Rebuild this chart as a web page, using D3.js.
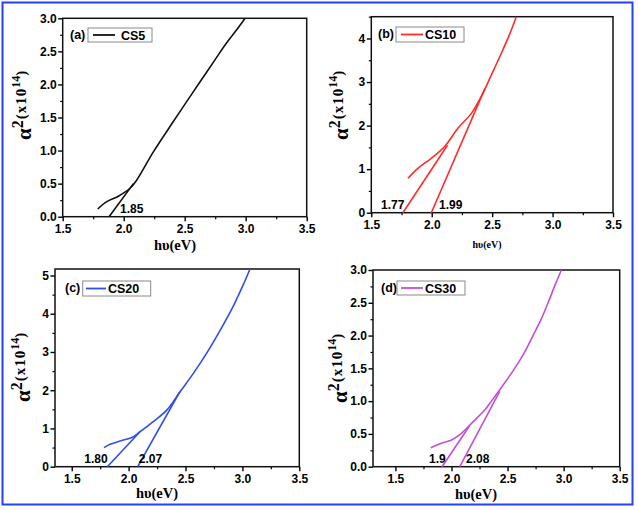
<!DOCTYPE html>
<html><head><meta charset="utf-8">
<script src="https://cdn.jsdelivr.net/npm/d3@7"></script>
<style>
body{margin:0;background:#fff;}
svg{display:block;}
</style></head>
<body>
<svg id="c" width="638" height="510"></svg>
<script>
// ---------- data ----------
const panelIds = ["(a)", "(b)", "(c)", "(d)"];
const samples = ["CS5", "CS10", "CS20", "CS30"];
const colors = ["#111111", "#ff2a2a", "#2f4fe6", "#c24fd6"];
const xTickVals = [1.5, 2.0, 2.5, 3.0, 3.5];

// CS5
const cs5X = [1.787, 1.861, 1.956, 2.052, 2.107, 2.243, 2.40, 2.516, 2.626, 2.744, 2.844, 2.94, 2.995];
const cs5Y = [0.116, 0.227, 0.31, 0.43, 0.555, 0.98, 1.42, 1.74, 2.04, 2.36, 2.63, 2.86, 3.0];
const cs5TanX = [[1.88, 2.08]];
const cs5TanY = [[0, 0.5]];
const cs5Gaps = ["1.85"];
const cs5GapX = [1.97];
const cs5GapY = [0.06];
const cs5YTicks = [0, 0.5, 1.0, 1.5, 2.0, 2.5, 3.0];

// CS10
const cs10X = [1.803, 1.886, 1.997, 2.107, 2.217, 2.328, 2.41, 2.493, 2.576, 2.645, 2.7];
const cs10Y = [0.79, 1.02, 1.25, 1.52, 1.94, 2.28, 2.67, 3.16, 3.66, 4.1, 4.5];
const cs10TanX = [[1.762, 2.13], [1.997, 2.44]];
const cs10TanY = [[0, 1.55], [0, 2.85]];
const cs10Gaps = ["1.77", "1.99"];
const cs10GapX = [1.58, 2.06];
const cs10GapY = [0.08, 0.08];
const cs10YTicks = [0, 1, 2, 3, 4];

// CS20
const cs20X = [1.784, 1.837, 1.925, 2.042, 2.1, 2.217, 2.335, 2.452, 2.569, 2.686, 2.803, 2.92, 2.96, 3.008, 3.067];
const cs20Y = [0.497, 0.585, 0.67, 0.785, 0.916, 1.18, 1.48, 1.96, 2.44, 2.97, 3.56, 4.2, 4.45, 4.76, 5.17];
const cs20TanX = [[1.813, 2.1], [2.08, 2.45]];
const cs20TanY = [[0, 0.916], [0, 1.96]];
const cs20Gaps = ["1.80", "2.07"];
const cs20GapX = [1.61, 2.09];
const cs20GapY = [0.1, 0.1];
const cs20YTicks = [0, 1, 2, 3, 4, 5];

// CS30
const cs30X = [1.815, 1.91, 2.0, 2.088, 2.178, 2.296, 2.356, 2.45, 2.564, 2.65, 2.727, 2.8, 2.861, 2.926, 2.98];
const cs30Y = [0.29, 0.356, 0.407, 0.508, 0.66, 0.864, 1.0, 1.22, 1.5, 1.74, 2.0, 2.25, 2.5, 2.78, 3.0];
const cs30TanX = [[1.916, 2.16], [2.074, 2.43]];
const cs30TanY = [[0, 0.62], [0, 1.15]];
const cs30Gaps = ["1.9", "2.08"];
const cs30GapX = [1.8, 2.13];
const cs30GapY = [0.06, 0.06];
const cs30YTicks = [0, 0.5, 1.0, 1.5, 2.0, 2.5, 3.0];

// ---------- layout ----------
const panels = [
  {x: cs5X, y: cs5Y, tx: cs5TanX, ty: cs5TanY, gl: cs5Gaps, gx: cs5GapX, gy: cs5GapY, yt: cs5YTicks,
   xd: [1.5, 3.5], yd: [0, 3.0], yfmt: ".1f", ymin: 0.25,
   L: 62.7, R: 306.7, T: 18.3, B: 216.7,
   leg: {idX: 70, box: [88, 28, 64, 14], line: [93, 115], tX: 121},
   ylab: {x: 31, y: 140}, xlab: {x: 175, y: 250, fs: 14.5}},
  {x: cs10X, y: cs10Y, tx: cs10TanX, ty: cs10TanY, gl: cs10Gaps, gx: cs10GapX, gy: cs10GapY, yt: cs10YTicks,
   xd: [1.5, 3.5], yd: [0, 4.5], yfmt: "d", ymin: 0.5,
   L: 371.3, R: 613, T: 16.7, B: 212.7,
   leg: {idX: 378, box: [396, 27, 68, 15], line: [401, 423], tX: 425},
   ylab: {x: 348, y: 140}, xlab: {x: 487, y: 248, fs: 10}},
  {x: cs20X, y: cs20Y, tx: cs20TanX, ty: cs20TanY, gl: cs20Gaps, gx: cs20GapX, gy: cs20GapY, yt: cs20YTicks,
   xd: [1.353, 3.5], yd: [0, 5.17], yfmt: "d", ymin: 0.5,
   L: 55, R: 299.3, T: 269, B: 466.7,
   leg: {idX: 65, box: [82.7, 281, 68, 15], line: [86, 106], tX: 108},
   ylab: {x: 30, y: 402}, xlab: {x: 157, y: 498, fs: 14.5}},
  {x: cs30X, y: cs30Y, tx: cs30TanX, ty: cs30TanY, gl: cs30Gaps, gx: cs30GapX, gy: cs30GapY, yt: cs30YTicks,
   xd: [1.3, 3.5], yd: [0, 3.0], yfmt: ".1f", ymin: 0.25,
   L: 373, R: 619.7, T: 270, B: 466.7,
   leg: {idX: 381, box: [397, 281, 68, 14], line: [401, 423], tX: 425},
   ylab: {x: 347, y: 403}, xlab: {x: 476, y: 499, fs: 14.5}}
];

const svg = d3.select("#c");

// outer frame
svg.append("rect").attr("x", 2.5).attr("y", 2.5).attr("width", 630).attr("height", 502)
  .attr("fill", "none").attr("stroke", "#2340ff").attr("stroke-width", 2);

const SANS = "'Liberation Sans', Arial, sans-serif";
const SERIF = "'Liberation Serif', 'Times New Roman', serif";

panels.forEach((p, i) => {
  const g = svg.append("g");
  const xs = d3.scaleLinear().domain(p.xd).range([p.L, p.R]);
  const ys = d3.scaleLinear().domain(p.yd).range([p.B, p.T]);
  const col = colors[i];

  // minor ticks
  const xMinor = d3.range(1.25, 3.51, 0.25).filter(v => v >= p.xd[0] - 1e-9 && !xTickVals.some(t => Math.abs(t - v) < 1e-6));
  const yMinor = d3.range(p.ymin, p.yd[1] + 1e-9, p.ymin * 2).filter(v => !p.yt.some(t => Math.abs(t - v) < 1e-6));
  g.append("g").attr("transform", `translate(0,${p.B})`)
    .call(d3.axisBottom(xs).tickValues(xMinor).tickSize(2.5).tickFormat("").tickSizeOuter(0))
    .call(a => a.select(".domain").remove())
    .call(a => a.selectAll("line").attr("stroke-width", 1.2));
  g.append("g").attr("transform", `translate(${p.L},0)`)
    .call(d3.axisLeft(ys).tickValues(yMinor).tickSize(2.5).tickFormat("").tickSizeOuter(0))
    .call(a => a.select(".domain").remove())
    .call(a => a.selectAll("line").attr("stroke-width", 1.2));

  // major axes
  const xa = g.append("g").attr("transform", `translate(0,${p.B})`)
    .call(d3.axisBottom(xs).tickValues(xTickVals).tickFormat(d3.format(".1f")).tickSize(4.5).tickPadding(3).tickSizeOuter(0));
  const ya = g.append("g").attr("transform", `translate(${p.L},0)`)
    .call(d3.axisLeft(ys).tickValues(p.yt).tickFormat(d3.format(p.yfmt)).tickSize(4.5).tickPadding(1.5).tickSizeOuter(0));
  [xa, ya].forEach(a => {
    a.select(".domain").remove();
    a.selectAll("line").attr("stroke", "#000").attr("stroke-width", 1.4);
    a.selectAll("text").attr("fill", "#000").style("font-family", SANS)
      .style("font-weight", "bold").style("font-size", "12px");
  });

  // frame
  g.append("rect").attr("x", p.L).attr("y", p.T).attr("width", p.R - p.L).attr("height", p.B - p.T)
    .attr("fill", "none").attr("stroke", "#111").attr("stroke-width", 1.5);

  const line = d3.line().x(d => xs(d[0])).y(d => ys(d[1])).curve(d3.curveCatmullRom.alpha(0.5));
  const clip = "clip" + i;
  svg.append("clipPath").attr("id", clip).append("rect")
    .attr("x", p.L).attr("y", p.T - 1).attr("width", p.R - p.L).attr("height", p.B - p.T + 1);

  // data curve
  g.append("path").datum(p.x.map((v, k) => [v, p.y[k]]))
    .attr("d", line).attr("fill", "none").attr("stroke", col).attr("stroke-width", 1.6)
    .attr("clip-path", `url(#${clip})`);
  // tangents
  p.tx.forEach((tx, k) => {
    g.append("path").datum(tx.map((v, j) => [v, p.ty[k][j]]))
      .attr("d", d3.line().x(d => xs(d[0])).y(d => ys(d[1])))
      .attr("fill", "none").attr("stroke", col).attr("stroke-width", 1.6);
  });
  // gap labels
  p.gl.forEach((t, k) => {
    g.append("text").attr("x", xs(p.gx[k])).attr("y", ys(p.gy[k]))
      .text(t).style("font-family", SANS).style("font-weight", "bold").style("font-size", "12px");
  });

  // legend
  const lg = p.leg;
  g.append("text").attr("x", lg.idX).attr("y", lg.box[1] + 11).text(panelIds[i])
    .style("font-family", SANS).style("font-weight", "bold").style("font-size", "12.5px");
  g.append("rect").attr("x", lg.box[0]).attr("y", lg.box[1]).attr("width", lg.box[2]).attr("height", lg.box[3])
    .attr("fill", "#fff").attr("stroke", "#8a8a8a").attr("stroke-width", 1);
  g.append("line").attr("x1", lg.line[0]).attr("x2", lg.line[1])
    .attr("y1", lg.box[1] + lg.box[3] / 2).attr("y2", lg.box[1] + lg.box[3] / 2)
    .attr("stroke", col).attr("stroke-width", 1.8);
  g.append("text").attr("x", lg.tX).attr("y", lg.box[1] + lg.box[3] / 2 + 4.5).text(samples[i])
    .style("font-family", SANS).style("font-weight", "bold").style("font-size", "12.5px");

  // y label
  const yl = g.append("text").attr("transform", `translate(${p.ylab.x},${p.ylab.y}) rotate(-90)`)
    .style("font-family", SERIF).style("font-weight", "bold");
  yl.append("tspan").text("α").style("font-size", "21px");
  yl.append("tspan").text("2").attr("dy", -8).style("font-size", "16px");
  yl.append("tspan").text("(x10").attr("dy", 3).attr("dx", 1).style("font-size", "15px").style("letter-spacing", "1px");
  yl.append("tspan").text("14").attr("dy", -6).style("font-size", "12px");
  yl.append("tspan").text(")").attr("dy", 6).style("font-size", "15px");

  // x label
  g.append("text").attr("x", p.xlab.x).attr("y", p.xlab.y).attr("text-anchor", "middle")
    .style("font-family", SERIF).style("font-weight", "bold").style("font-size", p.xlab.fs + "px")
    .text("hυ(eV)");
});
</script>
</body></html>
